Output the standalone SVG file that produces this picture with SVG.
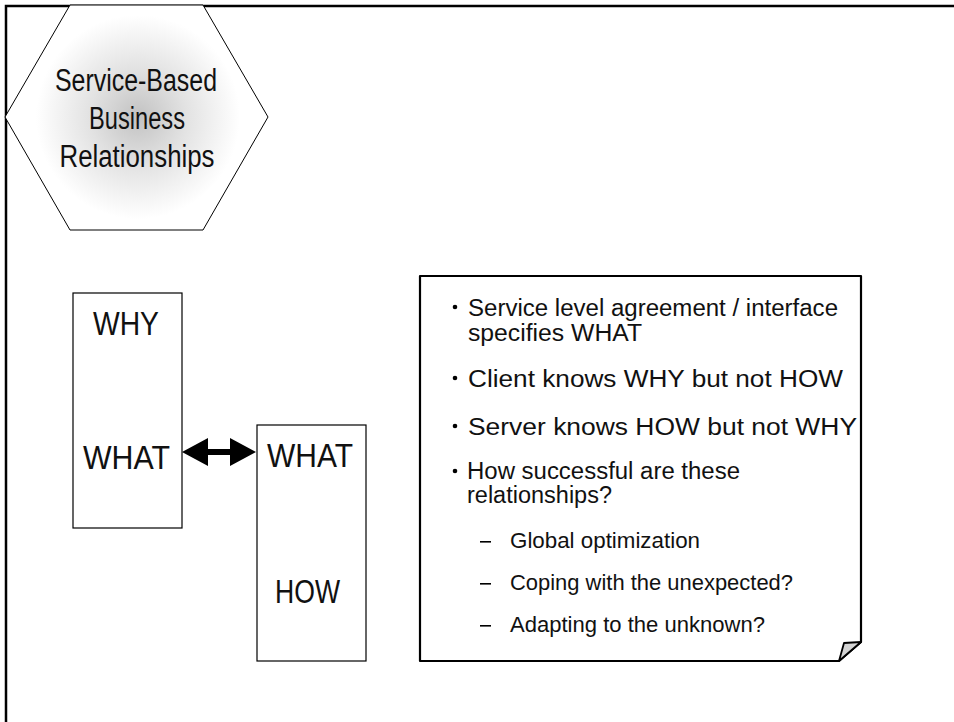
<svg xmlns="http://www.w3.org/2000/svg" width="954" height="722" viewBox="0 0 954 722">
  <style>
    .frame { fill: none; stroke: #000; stroke-width: 2.5; }
    .box { fill: #fff; stroke: #000; stroke-width: 1.2; }
    .big { font-family: "Liberation Sans", Arial, sans-serif; font-size: 33px; fill: #111; }
    .title { font-family: "Liberation Sans", Arial, sans-serif; font-size: 31px; fill: #111; text-anchor: middle; }
    .item { font-family: "Liberation Sans", Arial, sans-serif; font-size: 23px; fill: #111; }
    .sub { font-family: "Liberation Sans", Arial, sans-serif; font-size: 22px; fill: #111; }
    .note { fill: #fff; stroke: #000; stroke-width: 2.2; stroke-linejoin: round; }
    .fold { fill: #d4d4d4; stroke: #000; stroke-width: 1.8; stroke-linejoin: round; }
  </style>
  <defs>
    <radialGradient id="hexShade" cx="138" cy="117" r="120" gradientUnits="userSpaceOnUse">
      <stop offset="0" stop-color="#c2c2c2"/>
      <stop offset="0.4" stop-color="#e2e2e2"/>
      <stop offset="0.85" stop-color="#ffffff"/>
    </radialGradient>
  </defs>

  <rect width="954" height="722" fill="#fff"/>

  <!-- page frame: top and left edges -->
  <path class="frame" d="M6,722 V6 H954"/>

  <!-- title hexagon -->
  <g id="title-hexagon">
    <polygon points="5,117 70,5 203,5 268,117 203,230 70,230" fill="url(#hexShade)" stroke="#000" stroke-width="1"/>
    <text class="title" x="136" y="91" textLength="162" lengthAdjust="spacingAndGlyphs">Service-Based</text>
    <text class="title" x="137" y="129" textLength="96" lengthAdjust="spacingAndGlyphs">Business</text>
    <text class="title" x="137" y="167" textLength="155" lengthAdjust="spacingAndGlyphs">Relationships</text>
  </g>

  <!-- client side: WHY / WHAT -->
  <g id="client-box">
    <rect class="box" x="73" y="293" width="109" height="235"/>
    <text class="big" x="93" y="335" textLength="66" lengthAdjust="spacingAndGlyphs">WHY</text>
    <text class="big" x="83" y="469" textLength="87" lengthAdjust="spacingAndGlyphs">WHAT</text>
  </g>

  <!-- server side: WHAT / HOW -->
  <g id="server-box">
    <rect class="box" x="257" y="425" width="109" height="236"/>
    <text class="big" x="267" y="467" textLength="86" lengthAdjust="spacingAndGlyphs">WHAT</text>
    <text class="big" x="275" y="603" textLength="65" lengthAdjust="spacingAndGlyphs">HOW</text>
  </g>

  <!-- connectors -->
  <g id="connectors">
    <polygon points="182,452 208,438 208,449 230,449 230,438 256,452 230,466 230,455 208,455 208,466" fill="#000"/>
  </g>

  <!-- note with folded corner -->
  <g id="notes">
    <path class="note" d="M420,276 H861 V642 L839,661 H420 Z"/>
    <path class="fold" d="M861,642 L844,643 L839,661 Z"/>

    <g fill="#000">
      <circle cx="455" cy="307" r="2.3"/>
      <circle cx="455" cy="378" r="2.3"/>
      <circle cx="455" cy="426" r="2.3"/>
      <circle cx="455" cy="471" r="2.3"/>
      <rect x="480" y="541" width="11" height="1.6"/>
      <rect x="480" y="583" width="11" height="1.6"/>
      <rect x="480" y="625" width="11" height="1.6"/>
    </g>

    <text class="item" x="468" y="316" textLength="370" lengthAdjust="spacingAndGlyphs">Service level agreement / interface</text>
    <text class="item" x="468" y="341" textLength="174" lengthAdjust="spacingAndGlyphs">specifies WHAT</text>
    <text class="item" x="468" y="387" textLength="375" lengthAdjust="spacingAndGlyphs">Client knows WHY but not HOW</text>
    <text class="item" x="468" y="435" textLength="389" lengthAdjust="spacingAndGlyphs">Server knows HOW but not WHY</text>
    <text class="item" x="467" y="479" textLength="273" lengthAdjust="spacingAndGlyphs">How successful are these</text>
    <text class="item" x="467" y="503" textLength="145" lengthAdjust="spacingAndGlyphs">relationships?</text>

    <text class="sub" x="510" y="548" textLength="190" lengthAdjust="spacingAndGlyphs">Global optimization</text>
    <text class="sub" x="510" y="590" textLength="283" lengthAdjust="spacingAndGlyphs">Coping with the unexpected?</text>
    <text class="sub" x="510" y="632" textLength="255" lengthAdjust="spacingAndGlyphs">Adapting to the unknown?</text>
  </g>
</svg>
